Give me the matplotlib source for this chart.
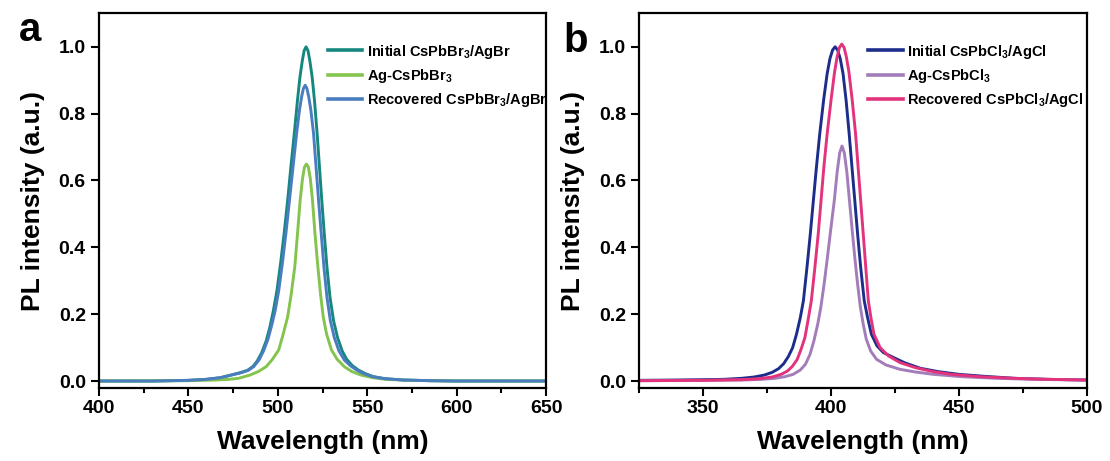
import matplotlib
matplotlib.use("Agg")
import matplotlib.pyplot as plt
from matplotlib.ticker import MultipleLocator, FormatStrFormatter

# --- fonts ---
plt.rcParams['font.family'] = ['Liberation Sans', 'DejaVu Sans']
plt.rcParams['font.weight'] = 'bold'
plt.rcParams['mathtext.fontset'] = 'custom'
plt.rcParams['mathtext.rm'] = 'Liberation Sans:bold'
plt.rcParams['mathtext.it'] = 'Liberation Sans:bold'
plt.rcParams['mathtext.bf'] = 'Liberation Sans:bold'
plt.rcParams['mathtext.default'] = 'rm'

# --- panel a: CsPbBr3 spectra ---
wl_br_init = [400, 430, 450, 460, 468, 474, 479, 483, 486, 488.5, 491, 493.5, 495.5, 497.5,
              499.5, 501.5, 503.5, 505.5, 507.3, 509.2, 511, 512.4, 513.6, 514.7, 515.8,
              516.9, 518.0, 519.2, 520.5, 522.0, 523.3, 524.6, 526.0, 527.5, 529.2, 531.2,
              533.4, 536, 538.5, 541.5, 545, 549, 553.5, 560, 570, 585, 600, 650]
pl_br_init = [0, 0, 0.002, 0.005, 0.01, 0.018, 0.025, 0.032, 0.043, 0.06, 0.085, 0.12, 0.16, 0.21,
              0.27, 0.35, 0.44, 0.54, 0.64, 0.74, 0.84, 0.91, 0.955, 0.988, 1.0,
              0.988, 0.955, 0.91, 0.84, 0.74, 0.64, 0.54, 0.44, 0.34, 0.25, 0.18,
              0.13, 0.09, 0.065, 0.047, 0.033, 0.022, 0.013, 0.007, 0.003, 0.001, 0, 0]

wl_br_ag = [400, 450, 465, 472.5, 478, 484.5, 489, 493.5, 497, 500.5, 503, 505.5, 507.5, 509.5,
            511, 512.5, 513.8, 514.9, 516, 517.1, 518.2, 519.4, 520.8, 522.4, 523.9, 525.4,
            527.3, 530.0, 533.2, 537.2, 541.5, 546.4, 553, 560.4, 575, 600, 650]
pl_br_ag = [0, 0.001, 0.003, 0.005, 0.008, 0.018, 0.028, 0.043, 0.065, 0.093, 0.14, 0.192, 0.26, 0.342,
            0.44, 0.541, 0.605, 0.64, 0.649, 0.64, 0.605, 0.541, 0.44, 0.342, 0.26, 0.192,
            0.14, 0.093, 0.065, 0.043, 0.028, 0.018, 0.01, 0.005, 0.002, 0, 0]

wl_br_rec = [400, 430, 450, 460, 468, 474, 479, 483.5, 486.5, 489.5, 492, 494.5, 496.5, 498.5,
             500.5, 502.5, 504.5, 506.5, 508.5, 510.5, 512.1, 513.3, 514.3, 515.3, 516.3,
             517.3, 518.5, 520.0, 521.4, 522.8, 524.3, 525.8, 527.5, 529.4, 531.6, 534.2,
             537.2, 540.5, 544, 548, 553, 559.5, 570, 585, 600, 650]
pl_br_rec = [0, 0, 0.002, 0.005, 0.01, 0.018, 0.024, 0.032, 0.043, 0.063, 0.09, 0.125, 0.165, 0.21,
             0.27, 0.35, 0.44, 0.54, 0.64, 0.74, 0.81, 0.85, 0.875, 0.885, 0.875,
             0.85, 0.81, 0.74, 0.64, 0.54, 0.44, 0.34, 0.25, 0.18, 0.13, 0.09,
             0.063, 0.046, 0.033, 0.022, 0.013, 0.007, 0.003, 0.001, 0, 0]

# --- panel b: CsPbCl3 spectra ---
wl_cl_init = [325, 340, 350, 358, 365, 370, 374, 377, 379.5, 381.5, 383.3, 385, 386.5, 388,
              389.2, 390.6, 391.9, 393.1, 394.3, 395.6, 397.1, 398.5, 399.6, 400.6, 401.6,
              402.6, 403.6, 404.7, 405.9, 407.1, 408.2, 409.3, 410.4, 411.6, 413.0, 414.3,
              415.8, 418.0, 420.5, 424.5, 429, 435, 442, 450, 460, 472, 485, 500]
pl_cl_init = [0.002, 0.003, 0.004, 0.005, 0.008, 0.012, 0.018, 0.026, 0.037, 0.052, 0.073, 0.1, 0.14, 0.19,
              0.24, 0.34, 0.44, 0.54, 0.64, 0.74, 0.84, 0.92, 0.965, 0.99, 1.0,
              0.99, 0.965, 0.92, 0.84, 0.74, 0.64, 0.54, 0.44, 0.34, 0.24, 0.19,
              0.14, 0.105, 0.085, 0.07, 0.054, 0.038, 0.028, 0.02, 0.014, 0.008, 0.005, 0.003]

wl_cl_ag = [325, 350, 365, 373, 378, 382, 385.2, 388, 390, 391.8, 393.3, 394.8, 396, 397.3,
            398.6, 400, 401.3, 402.4, 403.4, 404.3, 405.2, 406.2, 407.2, 408.3, 409.3, 410.4,
            411.5, 412.6, 413.8, 415.5, 417.8, 421.5, 427, 433, 440, 451, 465, 480, 500]
pl_cl_ag = [0.001, 0.002, 0.003, 0.005, 0.008, 0.013, 0.02, 0.033, 0.05, 0.08, 0.12, 0.17, 0.22, 0.29,
            0.37, 0.46, 0.541, 0.625, 0.683, 0.703, 0.683, 0.625, 0.541, 0.45, 0.37, 0.29,
            0.22, 0.17, 0.125, 0.09, 0.065, 0.048, 0.035, 0.027, 0.02, 0.013, 0.008, 0.005, 0.003]

wl_cl_rec = [325, 350, 365, 372, 377, 380.5, 383, 385, 386.8, 388.2, 389.8, 391.2, 392.3, 393.7,
             395, 396.1, 397.2, 398.5, 400, 401.4, 402.4, 403.3, 404.2, 405.1, 406.0,
             407.0, 408.3, 409.6, 410.6, 411.6, 412.6, 413.6, 414.6, 415.6, 416.8, 419.2,
             422.5, 427, 433, 440, 447, 458, 472, 485, 500]
pl_cl_rec = [0.001, 0.002, 0.004, 0.007, 0.012, 0.02, 0.03, 0.045, 0.065, 0.093, 0.13, 0.19, 0.24, 0.34,
             0.44, 0.54, 0.64, 0.74, 0.84, 0.925, 0.97, 0.998, 1.008, 0.998, 0.97,
             0.925, 0.84, 0.74, 0.64, 0.54, 0.44, 0.34, 0.24, 0.19, 0.14, 0.1,
             0.075, 0.055, 0.04, 0.028, 0.02, 0.013, 0.008, 0.005, 0.003]

lab_br = ['Initial CsPbBr$_3$/AgBr', 'Ag-CsPbBr$_3$', 'Recovered CsPbBr$_3$/AgBr']
lab_cl = ['Initial CsPbCl$_3$/AgCl', 'Ag-CsPbCl$_3$', 'Recovered CsPbCl$_3$/AgCl']
col_br = ['#16877f', '#84c44e', '#4a7dbf']
col_cl = ['#1c2d8c', '#a37cba', '#e3337c']

fig = plt.figure(figsize=(11.1, 4.61), dpi=100)
ax_a = fig.add_axes([0.0892, 0.159, 0.4027, 0.812])
ax_b = fig.add_axes([0.5759, 0.159, 0.4031, 0.812])

LW = 2.1
ax_a.plot(wl_br_init, pl_br_init, color=col_br[0], lw=LW, label=lab_br[0])
ax_a.plot(wl_br_ag, pl_br_ag, color=col_br[1], lw=LW, label=lab_br[1])
ax_a.plot(wl_br_rec, pl_br_rec, color=col_br[2], lw=LW, label=lab_br[2])

ax_b.plot(wl_cl_init, pl_cl_init, color=col_cl[0], lw=LW, label=lab_cl[0])
ax_b.plot(wl_cl_ag, pl_cl_ag, color=col_cl[1], lw=LW, label=lab_cl[1])
ax_b.plot(wl_cl_rec, pl_cl_rec, color=col_cl[2], lw=LW, label=lab_cl[2])

ax_a.set_xlim(400, 650)
ax_b.set_xlim(325, 500)

for ax in (ax_a, ax_b):
    ax.set_ylim(-0.02, 1.1)
    ax.xaxis.set_major_locator(MultipleLocator(50))
    ax.xaxis.set_minor_locator(MultipleLocator(25))
    ax.yaxis.set_major_locator(MultipleLocator(0.2))
    ax.yaxis.set_major_formatter(FormatStrFormatter('%.1f'))
    ax.tick_params(axis='both', which='major', direction='out', length=5.5, width=1.5,
                   labelsize=14, top=False, right=False)
    ax.tick_params(axis='x', which='major', pad=3.5)
    ax.tick_params(axis='y', which='major', pad=4)
    ax.tick_params(axis='x', which='minor', direction='out', length=3.5, width=1.5)
    ax.tick_params(axis='y', which='minor', left=False)
    for s in ax.spines.values():
        s.set_linewidth(1.6)
    ax.set_xlabel('Wavelength (nm)', fontsize=19, fontweight='bold', labelpad=9)
    ax.set_ylabel('PL intensity (a.u.)', fontsize=19, fontweight='bold', labelpad=10)
    ax.legend(loc='upper left', bbox_to_anchor=(0.512, 0.922), frameon=False,
              fontsize=10.5, handlelength=2.35, handletextpad=0.3, labelspacing=0.42,
              borderpad=0, borderaxespad=0)
    for ln in ax.get_legend().get_lines():
        ln.set_linewidth(2.6)

fig.text(0.027, 0.91, 'a', fontsize=29, fontweight='bold', ha='center', va='baseline')
fig.text(0.519, 0.887, 'b', fontsize=29, fontweight='bold', ha='center', va='baseline')

fig.savefig('out.png', dpi=100)
